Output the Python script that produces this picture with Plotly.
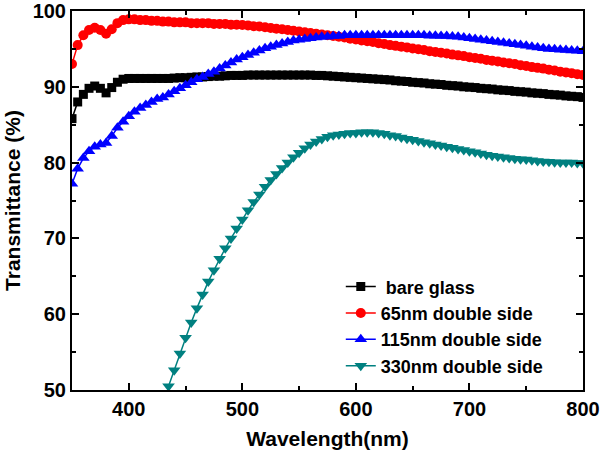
import plotly.graph_objects as go

wavelength = list(range(350, 805, 5))

bare_glass = [85.8, 88.0, 89.0, 89.8, 90.1, 89.8, 89.2, 89.9, 90.6, 91.0,
              91.1, 91.1, 91.1, 91.1, 91.1, 91.1, 91.1, 91.1, 91.15, 91.2,
              91.2, 91.25, 91.3, 91.3, 91.35, 91.4, 91.4, 91.45, 91.5, 91.5,
              91.5, 91.55, 91.55, 91.55, 91.55, 91.55, 91.55, 91.55, 91.55, 91.55,
              91.55, 91.55, 91.55, 91.5, 91.5, 91.45, 91.4, 91.35, 91.3, 91.25,
              91.2, 91.15, 91.1, 91.05, 91.0, 90.95, 90.9, 90.8, 90.75, 90.7,
              90.6, 90.55, 90.5, 90.4, 90.35, 90.3, 90.2, 90.15, 90.1, 90.0,
              89.95, 89.9, 89.8, 89.75, 89.7, 89.6, 89.55, 89.5, 89.4, 89.35,
              89.3, 89.2, 89.15, 89.1, 89.0, 88.95, 88.9, 88.8, 88.75, 88.7,
              88.6]

nm65 = [93.0, 95.5, 96.8, 97.5, 97.8, 97.5, 97.0, 97.6, 98.4, 98.8,
        98.9, 98.9, 98.8, 98.8, 98.7, 98.7, 98.6, 98.6, 98.5, 98.5,
        98.5, 98.4, 98.4, 98.4, 98.4, 98.3, 98.3, 98.3, 98.2, 98.2,
        98.15, 98.1, 98.0, 97.95, 97.85, 97.75, 97.65, 97.6, 97.5, 97.4,
        97.3, 97.2, 97.1, 97.0, 96.9, 96.8, 96.7, 96.6, 96.5, 96.35,
        96.25, 96.1, 96.0, 95.9, 95.75, 95.65, 95.5, 95.4, 95.3, 95.2,
        95.05, 94.95, 94.85, 94.7, 94.6, 94.5, 94.4, 94.25, 94.15, 94.05,
        93.9, 93.8, 93.7, 93.55, 93.45, 93.35, 93.2, 93.1, 93.0, 92.85,
        92.75, 92.6, 92.5, 92.4, 92.25, 92.15, 92.0, 91.9, 91.8, 91.65,
        91.55]

nm115 = [77.2, 79.2, 80.6, 81.5, 82.1, 82.4, 82.6, 83.5, 84.6, 85.4,
         86.1, 86.7, 87.2, 87.6, 88.0, 88.4, 88.6, 89.0, 89.4, 89.8,
         90.2, 90.6, 91.0, 91.3, 91.7, 92.0, 92.4, 92.8, 93.2, 93.6,
         93.9, 94.2, 94.5, 94.8, 95.1, 95.3, 95.5, 95.7, 95.9, 96.1,
         96.2, 96.3, 96.4, 96.5, 96.6, 96.6, 96.7, 96.7, 96.8, 96.8,
         96.8, 96.8, 96.8, 96.8, 96.8, 96.8, 96.8, 96.8, 96.8, 96.8,
         96.8, 96.8, 96.8, 96.75, 96.75, 96.7, 96.7, 96.65, 96.6, 96.5,
         96.4, 96.3, 96.2, 96.1, 96.0, 95.9, 95.8, 95.7, 95.6, 95.5,
         95.4, 95.3, 95.2, 95.1, 95.0, 94.95, 94.9, 94.85, 94.8, 94.75,
         94.7]

wavelength_330 = list(range(435, 805, 5))
nm330 = [50.5, 52.6, 54.8, 56.9, 58.9, 60.8, 62.6, 64.3, 65.8, 67.3,
         68.7, 70.0, 71.3, 72.5, 73.7, 74.8, 75.8, 76.8, 77.7, 78.5,
         79.3, 80.0, 80.7, 81.3, 81.9, 82.4, 82.8, 83.1, 83.4, 83.6,
         83.7, 83.8, 83.9, 83.9, 84.0, 84.0, 84.0, 83.9, 83.8, 83.6,
         83.5, 83.3, 83.15, 83.0, 82.85, 82.7, 82.55, 82.4, 82.25, 82.1,
         81.95, 81.8, 81.65, 81.5, 81.35, 81.2, 81.05, 80.9, 80.8, 80.7,
         80.6, 80.5, 80.45, 80.4, 80.3, 80.2, 80.15, 80.1, 80.05, 80.0,
         80.0, 80.0, 79.95, 79.9]

series = [
    ("\u00a0bare glass", wavelength, bare_glass, "#000000", "square", 9),
    ("65nm double side", wavelength, nm65, "#FF0000", "circle", 10),
    ("115nm double side", wavelength, nm115, "#0000FF", "triangle-up", 11),
    ("330nm double side", wavelength_330, nm330, "#008080", "triangle-down", 11),
]

fig = go.Figure()
for name, xs, ys, color, symbol, size in series:
    fig.add_trace(go.Scatter(
        x=xs, y=ys, name=name, mode="lines+markers",
        line=dict(color=color, width=1.5),
        marker=dict(symbol=symbol, size=size, color=color, line=dict(width=0)),
    ))

font_family = "Liberation Sans, Arial, sans-serif"
axis_common = dict(
    showline=True, linecolor="black", linewidth=2, mirror="ticks",
    ticks="inside", ticklen=7, tickwidth=2, tickcolor="black",
    showgrid=False, zeroline=False, automargin=False,
    ticklabeloverflow="allow",
    tickfont=dict(family=font_family, size=20, color="black", weight="bold"),
)

fig.update_xaxes(
    range=[350, 800], tickvals=[400, 500, 600, 700, 800],
    minor=dict(ticks="inside", ticklen=4, tickwidth=2, tickcolor="black", dtick=50, tick0=350),
    title=dict(text="Wavelength(nm)", font=dict(family=font_family, size=21, color="black", weight="bold"), standoff=12),
    **axis_common,
)
fig.update_yaxes(
    range=[50, 100], tickvals=[50, 60, 70, 80, 90, 100],
    minor=dict(ticks="inside", ticklen=4, tickwidth=2, tickcolor="black", dtick=5, tick0=50),
    title=dict(text="Transmittance (%)", font=dict(family=font_family, size=21, color="black", weight="bold"), standoff=6),
    **axis_common,
)

fig.update_layout(
    width=600, height=450,
    margin=dict(l=72, r=17, t=11, b=60),
    plot_bgcolor="white", paper_bgcolor="white",
    legend=dict(
        x=0.526, y=0.321, xanchor="left", yanchor="top",
        bgcolor="rgba(0,0,0,0)", borderwidth=0,
        font=dict(family=font_family, size=18, color="black", weight="bold"),
        itemwidth=30, tracegroupgap=0,
    ),
)

fig.write_html(
    "out.html",
    config={"displayModeBar": False},
    post_script="document.body.style.margin='0';document.body.style.overflow='hidden';",
)
